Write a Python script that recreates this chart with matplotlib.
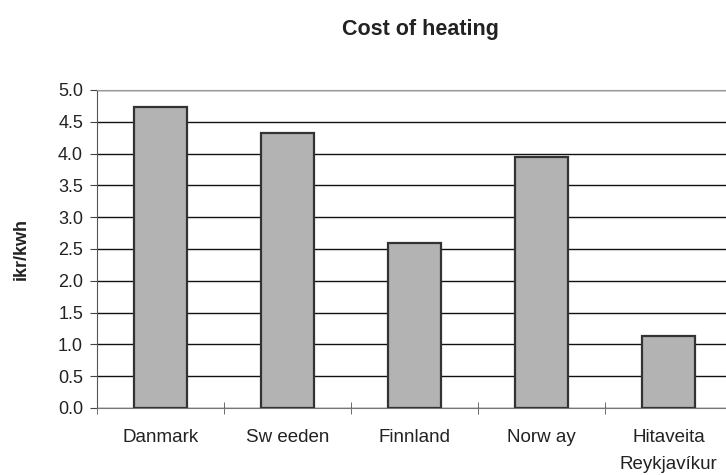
import matplotlib.pyplot as plt
import numpy as np

plt.rcParams['font.family'] = ['Liberation Sans', 'DejaVu Sans']

# data
countries = ['Danmark', 'Sw eeden', 'Finnland', 'Norw ay', 'Hitaveita\nReykjavíkur']
cost = [4.73, 4.32, 2.60, 3.95, 1.13]
yticks = [0.0, 0.5, 1.0, 1.5, 2.0, 2.5, 3.0, 3.5, 4.0, 4.5, 5.0]

fig = plt.figure(figsize=(7.26, 4.75), dpi=100)
# plot area runs past the right edge of the picture, like the scanned original
ax = fig.add_axes([97 / 726, 67 / 475, 635 / 726, 318 / 475])

x = np.arange(len(countries))
ax.bar(x, cost, width=0.41, color='#b3b3b3', edgecolor='#333333', linewidth=1.6, zorder=3)

ax.set_xlim(-0.5, len(countries) - 0.5)
ax.set_ylim(0, 5.0)
ax.set_yticks(yticks)
ax.set_yticklabels([f'{v:.1f}' for v in yticks], fontsize=13)
ax.yaxis.grid(True, color='#111111', linewidth=1.0, zorder=0)

ax.set_xticks(x)
ax.set_xticklabels(countries, fontsize=13.5, linespacing=1.75, color='#222222')
ax.tick_params(axis='x', length=0, pad=15)
ax.set_xticks(np.arange(len(countries) + 1) - 0.5, minor=True)
ax.tick_params(axis='x', which='minor', length=8, direction='inout', color='#555555')
ax.tick_params(axis='y', length=5, color='#444444', pad=5, labelcolor='#222222')

for s in ['top', 'right']:
    ax.spines[s].set_color('#999999')
ax.spines['left'].set_color('#555555')
ax.spines['bottom'].set_color('#777777')

ax.set_ylabel('ikr/kwh', fontsize=13, fontweight='bold', labelpad=20, color='#222222')
fig.text(420 / 726, 1 - 30 / 475, 'Cost of heating', fontsize=15.5, fontweight='bold',
         ha='center', va='center', color='#222222')

plt.savefig('out.png', dpi=100)
